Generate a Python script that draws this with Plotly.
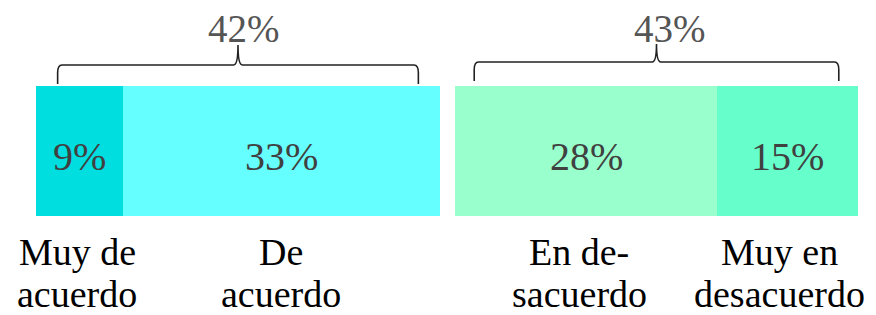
import plotly.graph_objects as go

# Data
left_cats = [["Muy de", "acuerdo"], ["De", "acuerdo"]]
left_vals = [9, 33]
left_colors = ["#00DEE0", "#66FFFF"]
right_cats = [["En de-", "sacuerdo"], ["Muy en", "desacuerdo"]]
right_vals = [28, 15]
right_colors = ["#99FFCC", "#66FFCC"]
group_totals = [42, 43]

# label nudges (pixels) to match the reference typesetting
left_label_shift = [-2, 0]
right_label_shift = [-7, -8]
total_label_shift = [6, 13]

FONT = "Liberation Serif"
W, H = 868, 307
fig = go.Figure()

def add_group(cats, vals, colors, xaxis):
    cum = 0
    for c, v, col in zip(cats, vals, colors):
        fig.add_trace(go.Bar(
            x=[v], y=[0], orientation="h", width=1,
            marker=dict(color=col, line=dict(width=0)),
            xaxis=xaxis, yaxis="y",
            showlegend=False, hoverinfo="skip", name=" ".join(c)))
        fig.add_annotation(x=cum + v / 2, y=0, xref=xaxis, yref="y", text=f"{v}%",
                           showarrow=False, yshift=-5,
                           font=dict(family=FONT, size=40, color="#404040"),
                           xanchor="center", yanchor="middle")
        cum += v

add_group(left_cats, left_vals, left_colors, "x")
add_group(right_cats, right_vals, right_colors, "x2")

def brace(xref, total, inset, yb, yh, yt, rx, ry):
    x0, x1, xm = inset, total - inset, total / 2
    p = (f"M {x0},{yb} L {x0},{yh-ry} Q {x0},{yh} {x0+rx},{yh} "
         f"L {xm-rx},{yh} Q {xm},{yh} {xm},{yt} "
         f"Q {xm},{yh} {xm+rx},{yh} L {x1-rx},{yh} Q {x1},{yh} {x1},{yh-ry} L {x1},{yb}")
    fig.add_shape(type="path", path=p, xref=xref, yref="y",
                  line=dict(color="#222222", width=1.6))

def labels(cats, vals, total, xref, shifts, tshift):
    cum = 0
    for c, v, sh in zip(cats, vals, shifts):
        for line, yy, ys in zip(c, [-0.80, -1.146], [3, 6]):
            fig.add_annotation(x=cum + v / 2, y=yy, xref=xref, yref="y", text=line,
                               showarrow=False, xshift=sh, yshift=ys,
                               font=dict(family=FONT, size=38, color="#000000"),
                               xanchor="center", yanchor="middle")
        cum += v
    fig.add_annotation(x=total / 2, y=0.946, xref=xref, yref="y", text=f"{total}%",
                       showarrow=False, xshift=tshift,
                       font=dict(family=FONT, size=39, color="#555555"),
                       xanchor="center", yanchor="middle")

brace("x", group_totals[0], 2.25, 0.515, 0.662, 0.815, 0.45, 0.06)
brace("x2", group_totals[1], 2.05, 0.538, 0.685, 0.823, 0.45, 0.06)
labels(left_cats, left_vals, group_totals[0], "x", left_label_shift, total_label_shift[0])
labels(right_cats, right_vals, group_totals[1], "x2", right_label_shift, total_label_shift[1])

fig.update_layout(
    width=W, height=H, margin=dict(l=0, r=0, t=0, b=0),
    paper_bgcolor="white", plot_bgcolor="white", barmode="stack", bargap=0,
    xaxis=dict(domain=[28/W, 432/W], range=[0, group_totals[0]], visible=False, fixedrange=True),
    xaxis2=dict(domain=[447/W, 850/W], range=[0, group_totals[1]], visible=False, anchor="y", fixedrange=True),
    yaxis=dict(range=[-(H - 143) / 130, 143 / 130], visible=False, fixedrange=True),
)
fig.write_html("out.html")
